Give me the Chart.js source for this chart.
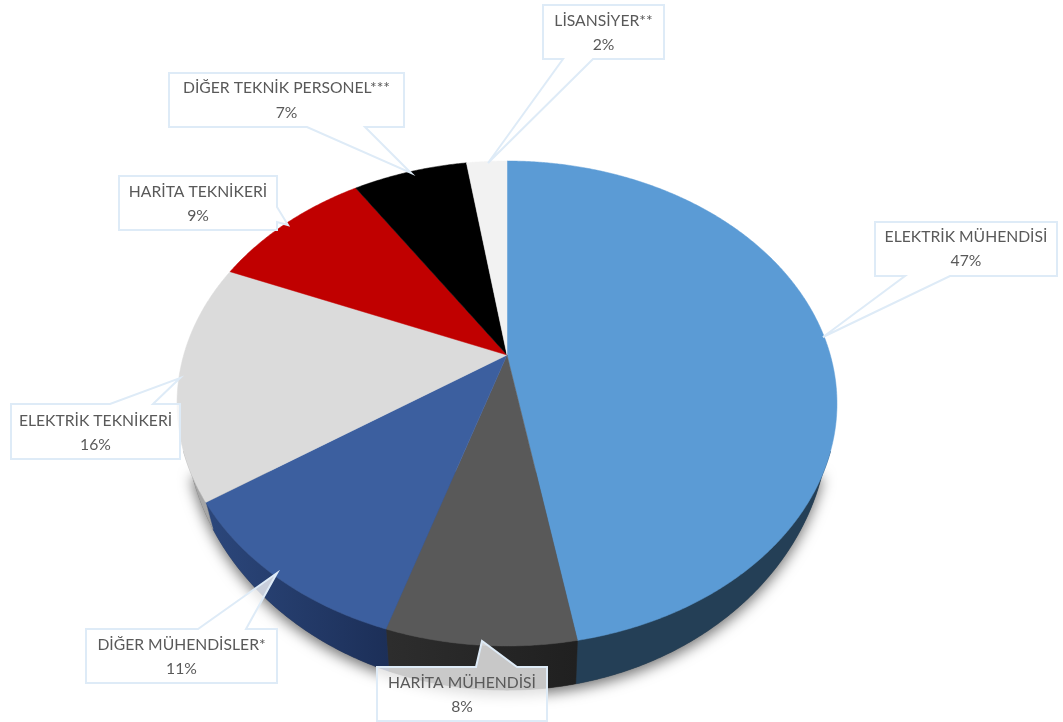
<!DOCTYPE html>
<html>
<head>
<meta charset="utf-8">
<style>html,body{margin:0;padding:0;background:#fff}canvas{display:block}</style>
<script src="https://cdn.jsdelivr.net/npm/chart.js@4"></script>
</head>
<body>
<canvas id="c" width="1063" height="722"></canvas>
<script>
const categories = ["ELEKTRİK MÜHENDİSİ","HARİTA MÜHENDİSİ","DİĞER MÜHENDİSLER*","ELEKTRİK TEKNİKERİ","HARİTA TEKNİKERİ","DİĞER TEKNİK PERSONEL***","LİSANSİYER**"];
const shares = [47.2,7.7,10.6,15.8,9.5,6.8,2.4];
const percentLabels = ["47%","8%","11%","16%","9%","7%","2%"];
const topColors = ["#5b9bd5","#595959","#3c5f9f","#dbdbdb","#c00000","#000000","#f2f2f2"];
const sideColorsA = ["#243f56","#2d2d2d","#2b467a","#a6a6a6","#700000","#000000","#909090"];
const sideColorsB = ["#243f56","#202020","#1c2f58","#a6a6a6","#700000","#000000","#909090"];

const calloutCenters = [[966,0],[462,0],[181.5,0],[95.5,0],[198,0],[286.5,0],[603.5,0]];
const calloutTextY = [[237,261],[683,707],[645,669],[421,445],[192,216],[88,113],[21,45]];
const calloutOutlines = [
  [[875,222],[1057,222],[1057,276],[950,276],[823,337],[905,276],[875,276]],
  [[377,667],[476,667],[482,641],[517,667],[547,667],[547,721],[377,721]],
  [[86,629],[198,629],[277,573],[246,629],[277,629],[277,683],[86,683]],
  [[11,404],[110,404],[180,378],[153,404],[180,404],[180,459],[11,459]],
  [[119,176],[277,176],[277,207],[288,225],[277,222],[277,230],[119,230]],
  [[169,73],[404,73],[404,127],[365,127],[411,173],[307,127],[169,127]],
  [[543,5],[664,5],[664,59],[593,59],[488,163],[563,59],[543,59]]
];

// Perspective projection of the pie's circle (a tilted disc seen from the front).
const TILT = 0.2;
function topPoint(el, a) {
  const R = el.outerRadius, u = Math.cos(a), v = Math.sin(a), d = 1 - TILT * v;
  return [el.x + R * u / d, el.y + R * 0.72 * v / d];
}
function basePoint(el, a) {
  const R = el.outerRadius, u = Math.cos(a), v = Math.sin(a), d = 1 - TILT * v;
  return [el.x + R * 0.976 * u / d, el.y + 9 + R * 0.807 * v / d];
}
function arcAngles(a0, a1) {
  const out = [], n = Math.max(2, Math.ceil((a1 - a0) / 0.006));
  for (let i = 0; i <= n; i++) out.push(a0 + (a1 - a0) * i / n);
  return out;
}
// Visible part of the rim, in canvas angles
const RIM_FROM = Math.PI / 2 - 1.18, RIM_TO = Math.PI / 2 + 1.18;

function drawTopFace(ctx) {
  const pts = arcAngles(this.startAngle, this.endAngle).map(a => topPoint(this, a));
  ctx.save();
  ctx.beginPath();
  ctx.moveTo(this.x, this.y);
  pts.forEach(p => ctx.lineTo(p[0], p[1]));
  ctx.closePath();
  ctx.fillStyle = this.options.backgroundColor;
  ctx.strokeStyle = this.options.backgroundColor;
  ctx.lineWidth = 0.5;
  ctx.fill();
  ctx.stroke();
  ctx.restore();
}

const pie3d = {
  id: 'pie3d',
  beforeDatasetsDraw(chart) {
    const ctx = chart.ctx, arcs = chart.getDatasetMeta(0).data;
    const first = arcs[0];
    // soft shadow under the disc
    ctx.save();
    ctx.shadowColor = 'rgba(0,0,0,0.55)';
    ctx.shadowBlur = 14;
    ctx.shadowOffsetY = 5;
    ctx.fillStyle = '#444';
    ctx.beginPath();
    arcAngles(RIM_FROM, RIM_TO).forEach((a, i) => {
      const p = basePoint(first, a);
      if (i === 0) ctx.moveTo(p[0], p[1]); else ctx.lineTo(p[0], p[1]);
    });
    ctx.closePath();
    ctx.fill();
    ctx.restore();
    // rim of each slice
    arcs.forEach((el, i) => {
      const a0 = Math.max(el.startAngle, RIM_FROM), a1 = Math.min(el.endAngle, RIM_TO);
      if (a1 <= a0) return;
      const angs = arcAngles(a0, a1);
      const tops = angs.map(a => topPoint(el, a)), bases = angs.map(a => basePoint(el, a));
      const g = ctx.createLinearGradient(bases[bases.length - 1][0], 0, bases[0][0], 0);
      g.addColorStop(0, sideColorsA[i]);
      g.addColorStop(1, sideColorsB[i]);
      ctx.beginPath();
      tops.forEach((p, j) => { if (j === 0) ctx.moveTo(p[0], p[1]); else ctx.lineTo(p[0], p[1]); });
      bases.reverse().forEach(p => ctx.lineTo(p[0], p[1]));
      ctx.closePath();
      ctx.fillStyle = g;
      ctx.strokeStyle = g;
      ctx.lineWidth = 0.5;
      ctx.fill();
      ctx.stroke();
    });
    arcs.forEach(el => { el.draw = drawTopFace; });
  },
  afterDatasetsDraw(chart) {
    const ctx = chart.ctx;
    categories.forEach((name, i) => {
      const o = calloutOutlines[i];
      ctx.save();
      ctx.beginPath();
      o.forEach((p, j) => { if (j === 0) ctx.moveTo(p[0], p[1]); else ctx.lineTo(p[0], p[1]); });
      ctx.closePath();
      ctx.fillStyle = 'rgba(255,255,255,0.75)';
      ctx.fill();
      ctx.strokeStyle = '#deebf7';
      ctx.lineWidth = 2;
      ctx.lineJoin = 'miter';
      ctx.stroke();
      ctx.fillStyle = '#595959';
      ctx.font = '15.7px Lato, "Open Sans", sans-serif';
      ctx.textAlign = 'center';
      ctx.textBaseline = 'middle';
      ctx.fillText(name, calloutCenters[i][0], calloutTextY[i][0]);
      ctx.fillText(percentLabels[i], calloutCenters[i][0], calloutTextY[i][1]);
      ctx.restore();
    });
  }
};

new Chart(document.getElementById('c'), {
  type: 'pie',
  data: { labels: categories, datasets: [{ data: shares, backgroundColor: topColors, borderWidth: 0 }] },
  options: {
    responsive: false,
    animation: false,
    layout: { padding: { left: 183.7, right: 232.7, top: 31.7, bottom: 43.7 } },
    plugins: { legend: { display: false }, tooltip: { enabled: false } }
  },
  plugins: [pie3d]
});
</script>
</body>
</html>
